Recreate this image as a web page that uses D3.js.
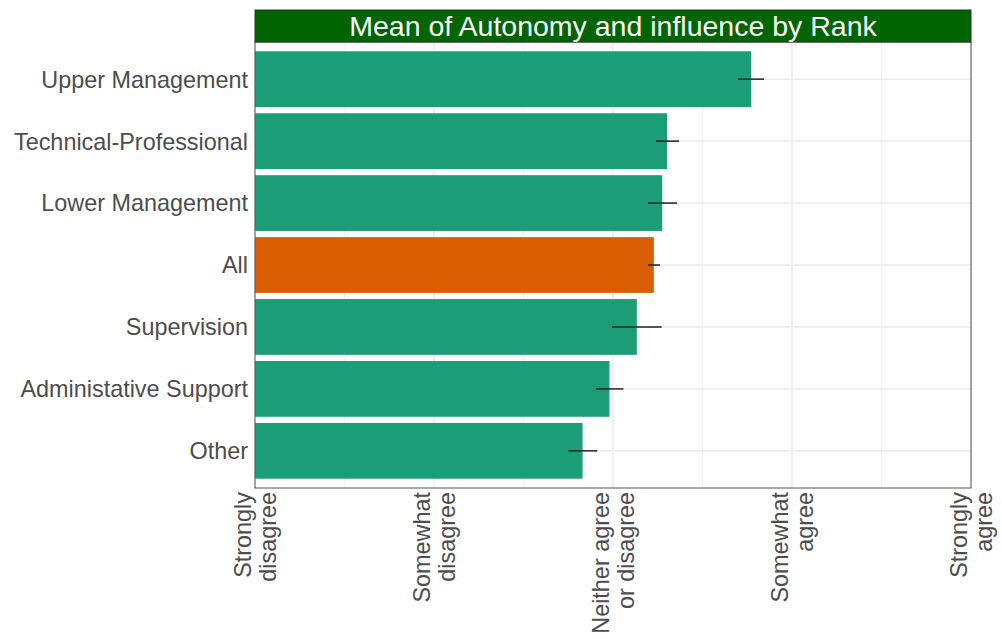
<!DOCTYPE html>
<html><head><meta charset="utf-8">
<script src="https://cdn.jsdelivr.net/npm/d3@7"></script>
<style>body{margin:0;background:#fff}svg{display:block}</style>
</head><body><svg id="c" width="1002" height="639"></svg>
<script>
const categories = ["Upper Management","Technical-Professional","Lower Management","All","Supervision","Administative Support","Other"];
const means = [3.771, 3.302, 3.275, 3.228, 3.133, 2.980, 2.830];
const errLow = [3.698, 3.240, 3.196, 3.196, 2.994, 2.905, 2.750];
const errHigh = [3.844, 3.369, 3.358, 3.263, 3.272, 3.058, 2.912];
const tickValues = [1, 2, 3, 4, 5];
const tickLabels = [["Strongly","disagree"],["Somewhat","disagree"],["Neither agree","or disagree"],["Somewhat","agree"],["Strongly","agree"]];
const title = "Mean of Autonomy and influence by Rank";

const svg = d3.select("#c");
const L = 255, R = 971, T = 42, B = 488;
const font = "Liberation Sans, Arial, sans-serif";
const x = d3.scaleLinear().domain([1,5]).range([L,R]);
// ggplot-like: discrete expand 0.6 each side, bar width 0.9
const step = (B - T) / (categories.length - 1 + 1.2);
const y = d3.scalePoint().domain(categories).range([T + 0.6*step, B - 0.6*step]);
const bw = step * 0.9;

// grid
const minor = [1.5,2.5,3.5,4.5];
svg.append("g").selectAll("line").data(minor).join("line")
  .attr("x1",d=>x(d)).attr("x2",d=>x(d)).attr("y1",T).attr("y2",B)
  .attr("stroke","#f2f2f2").attr("stroke-width",1);
svg.append("g").selectAll("line").data(tickValues).join("line")
  .attr("x1",d=>x(d)).attr("x2",d=>x(d)).attr("y1",T).attr("y2",B)
  .attr("stroke","#ebebeb").attr("stroke-width",1.5);
svg.append("g").selectAll("line").data(categories).join("line")
  .attr("x1",L).attr("x2",R).attr("y1",d=>y(d)).attr("y2",d=>y(d))
  .attr("stroke","#ebebeb").attr("stroke-width",1.5);

// bars
svg.append("g").selectAll("rect").data(categories).join("rect")
  .attr("x",x(1)).attr("y",d=>y(d)-bw/2)
  .attr("width",(d,i)=>x(means[i])-x(1)).attr("height",bw)
  .attr("fill",d=>d==="All"?"#d95f02":"#1b9e77");

// error bars
svg.append("g").selectAll("line").data(categories).join("line")
  .attr("x1",(d,i)=>x(errLow[i])).attr("x2",(d,i)=>x(errHigh[i]))
  .attr("y1",d=>y(d)).attr("y2",d=>y(d))
  .attr("stroke","#222").attr("stroke-width",1.5);

// panel border
svg.append("rect").attr("x",L).attr("y",T).attr("width",R-L).attr("height",B-T)
  .attr("fill","none").attr("stroke","#555").attr("stroke-width",1);

// strip
svg.append("rect").attr("x",L).attr("y",10).attr("width",R-L).attr("height",T-10)
  .attr("fill","#006400").attr("stroke","#333").attr("stroke-width",1);
svg.append("text").attr("x",(L+R)/2).attr("y",26).attr("dy","0.36em")
  .attr("text-anchor","middle").attr("fill","#fff")
  .style("font-family",font).style("font-size","28.5px").text(title);

// y labels
svg.append("g").selectAll("text").data(categories).join("text")
  .attr("x",L-7).attr("y",d=>y(d)).attr("dy","0.36em")
  .attr("text-anchor","end").attr("fill","#4d4d4d")
  .style("font-family",font).style("font-size","23.4px").text(d=>d);
// x labels (rotated)
const xl = svg.append("g").selectAll("g").data(tickValues).join("g")
  .attr("transform",d=>`translate(${x(d)},${B+4}) rotate(-90)`);
xl.each(function(d,i){
  const g = d3.select(this);
  const lines = tickLabels[i];
  lines.forEach((t,j)=>{
    g.append("text").attr("x",0).attr("y",(j-(lines.length-1)/2)*25.5).attr("dy","0.36em")
      .attr("text-anchor","end").attr("fill","#4d4d4d")
      .style("font-family",font).style("font-size","23.4px").text(t);
  });
});
</script></body></html>
